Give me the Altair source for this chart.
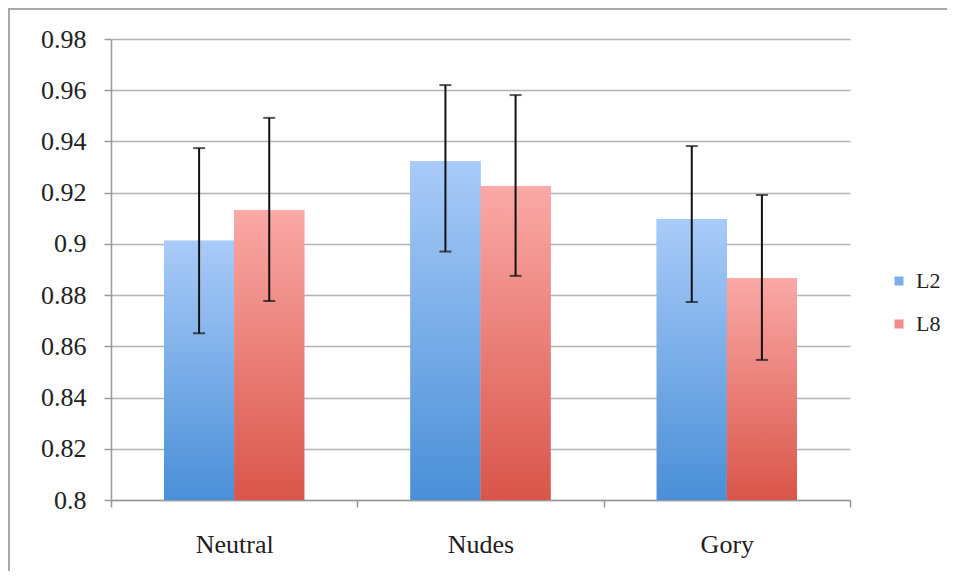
import altair as alt
import pandas as pd

categories = ["Neutral", "Nudes", "Gory"]
series = ["L2", "L8"]
l2_means = [0.9012, 0.9324, 0.9097]
l8_means = [0.9132, 0.9226, 0.8867]
l2_low = [0.8651, 0.8970, 0.8773]
l2_high = [0.9374, 0.9620, 0.9382]
l8_low = [0.8777, 0.8875, 0.8547]
l8_high = [0.9492, 0.9581, 0.9191]
y_ticks = [0.8, 0.82, 0.84, 0.86, 0.88, 0.9, 0.92, 0.94, 0.96, 0.98]

rows = []
for i, c in enumerate(categories):
    rows.append({"cat": c, "series": "L2", "mean": l2_means[i], "low": l2_low[i], "high": l2_high[i]})
    rows.append({"cat": c, "series": "L8", "mean": l8_means[i], "low": l8_low[i], "high": l8_high[i]})
df = pd.DataFrame(rows)

FONT = "Liberation Serif"
W, H = 739, 461

x_enc = alt.X("cat:N", sort=categories, title=None,
              scale=alt.Scale(paddingInner=0, paddingOuter=0),
              axis=alt.Axis(labelAngle=0, tickBand="extent", labelFontSize=26,
                            labelPadding=24, tickSize=7, grid=False))
xo_enc = alt.XOffset("series:N", sort=series,
                     scale=alt.Scale(domain=series, paddingInner=0, paddingOuter=0.756))
y_scale = alt.Scale(domain=[0.8, 0.98], nice=False, zero=False)
y_enc = alt.Y("mean:Q", scale=y_scale, title=None,
              axis=alt.Axis(values=y_ticks, format=".2~f", labelFontSize=26,
                            labelPadding=18, tickSize=7, grid=True))

base = alt.Chart(df)

legend_bars = base.mark_bar().encode(
    x=x_enc, xOffset=xo_enc, y=y_enc, y2=alt.datum(0.8),
    color=alt.Color("series:N", sort=series, title=None,
                    scale=alt.Scale(domain=series, range=["#7aaeea", "#ef8c88"]),
                    legend=alt.Legend(orient="none", legendX=777, legendY=231,
                                      symbolType="square", symbolSize=81,
                                      labelFontSize=22, rowPadding=21,
                                      labelOffset=6, padding=0,
                                      symbolStrokeWidth=0)),
)

def grad(top, bottom):
    return alt.LinearGradient(gradient="linear", x1=0, y1=0, x2=0, y2=1,
                              stops=[alt.GradientStop(color=top, offset=0),
                                     alt.GradientStop(color=bottom, offset=1)])

l2_bars = base.transform_filter(alt.datum.series == "L2").mark_bar(
    color=grad("#a9cbf8", "#4a8fd7")).encode(
    x=x_enc, xOffset=xo_enc, y=y_enc, y2=alt.datum(0.8))
l8_bars = base.transform_filter(alt.datum.series == "L8").mark_bar(
    color=grad("#faa9a6", "#d9554a")).encode(
    x=x_enc, xOffset=xo_enc, y=y_enc, y2=alt.datum(0.8))

err_rule = base.mark_rule(color="#111", strokeWidth=2).encode(
    x=x_enc, xOffset=xo_enc,
    y=alt.Y("low:Q", scale=y_scale), y2="high:Q")
cap_low = base.mark_tick(color="#111", thickness=2, size=12, orient="horizontal").encode(
    x=x_enc, xOffset=xo_enc, y=alt.Y("low:Q", scale=y_scale))
cap_high = base.mark_tick(color="#111", thickness=2, size=12, orient="horizontal").encode(
    x=x_enc, xOffset=xo_enc, y=alt.Y("high:Q", scale=y_scale))

frame = alt.Chart(pd.DataFrame({"a": [0]})).mark_rect(
    filled=False, stroke="#a9a9a9", strokeWidth=2, clip=False).encode(
    x=alt.value(-102), x2=alt.value(W + 200),
    y=alt.value(-30), y2=alt.value(H + 200))

chart = alt.layer(frame, legend_bars, l2_bars, l8_bars, err_rule, cap_low, cap_high).properties(
    width=W, height=H,
    autosize=alt.AutoSizeParams(type="none"),
    padding={"left": 103, "top": 31, "right": 97, "bottom": 71},
).configure_view(stroke=None).configure_axis(
    labelFont=FONT, labelColor="#222",
    domainColor="#999", domainWidth=1.5,
    tickColor="#999", tickWidth=1.5,
    gridColor="#b3b3b3", gridWidth=1.5,
).configure_legend(labelFont=FONT, labelColor="#222", symbolOpacity=1)

chart.save("out.html", embed_options={"renderer": "svg", "actions": False})
